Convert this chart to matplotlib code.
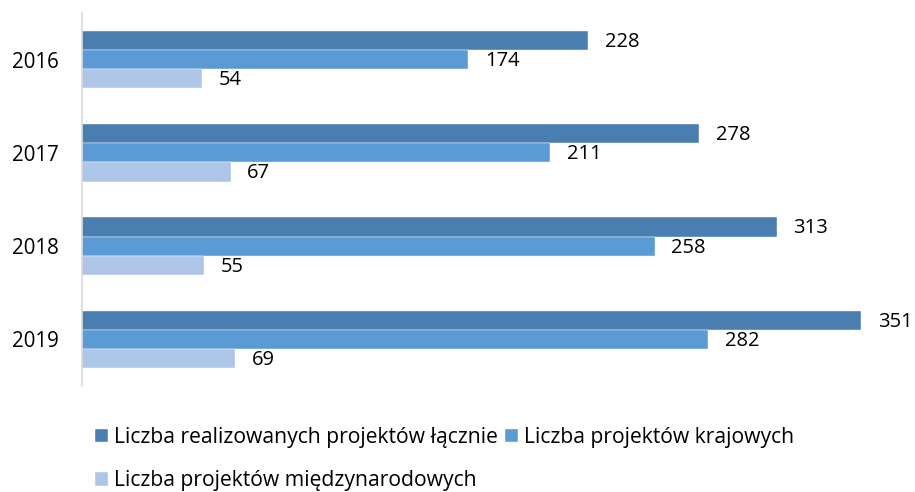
import matplotlib.pyplot as plt
import numpy as np

plt.rcParams['font.family'] = ['Open Sans', 'DejaVu Sans']

years = ["2016", "2017", "2018", "2019"]
total = [228, 278, 313, 351]
domestic = [174, 211, 258, 282]
international = [54, 67, 55, 69]

labels = ["Liczba realizowanych projektów łącznie",
          "Liczba projektów krajowych",
          "Liczba projektów międzynarodowych"]
colors = ["#4A7EB0", "#5B9BD5", "#ADC5E7"]

W, H = 915, 492
fig = plt.figure(figsize=(W / 100, H / 100), dpi=100)
ax = fig.add_axes([82 / W, 1 - 386 / H, (881 - 82) / W, (386 - 13) / H])

y = np.arange(len(years))
h = 0.205
series = [total, domestic, international]
bars = []
for k, (vals, col, lab) in enumerate(zip(series, colors, labels)):
    b = ax.barh(y + (k - 1) * h, vals, height=h, color=col, label=lab,
                edgecolor="white", linewidth=0.3)
    bars.append(b)
    for yy, v in zip(y + (k - 1) * h, vals):
        ax.annotate(str(v), (v, yy), xytext=(12, -1), textcoords="offset points",
                    va="center", ha="left", fontsize=14.5, color="#000000")

ax.set_xlim(0, 360)
ax.set_ylim(len(years) - 0.5, -0.5)
ax.set_yticks(y)
ax.set_yticklabels(years, fontsize=14.8)
ax.tick_params(axis="y", length=0, pad=17)
ax.set_xticks([])
for s in ["top", "right", "bottom"]:
    ax.spines[s].set_visible(False)
ax.spines["left"].set_color("#D9D9D9")
ax.spines["left"].set_linewidth(1.2)

handles = [bars[0], bars[2], bars[1]]
hl = [labels[0], labels[2], labels[1]]
fig.legend(handles, hl, ncol=2, loc="upper left",
           bbox_to_anchor=(95 / W, 1 - 427 / H), frameon=False,
           fontsize=15.2, handlelength=0.62, handleheight=0.62,
           handletextpad=0.3, columnspacing=0.3, labelspacing=1.05,
           borderaxespad=0, borderpad=0)

fig.savefig("out.png", dpi=100)
